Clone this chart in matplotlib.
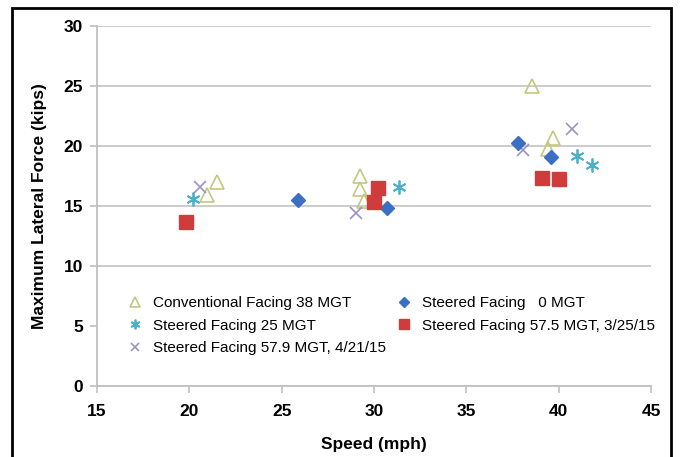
import numpy as np
import matplotlib.pyplot as plt
from matplotlib.patches import Rectangle

plt.rcParams['font.family'] = ['Liberation Sans', 'DejaVu Sans']

# Conventional Facing 38 MGT
conv_x = [20.96, 21.5, 29.24, 29.24, 29.46, 38.55, 39.7, 39.4]
conv_y = [15.9, 17.0, 17.5, 16.4, 15.4, 25.0, 20.7, 19.75]
# Steered Facing 0 MGT
s0_x = [25.88, 30.7, 37.8, 39.6]
s0_y = [15.5, 14.8, 20.25, 19.1]
# Steered Facing 25 MGT
s25_x = [20.2, 31.35, 41.0, 41.8]
s25_y = [15.6, 16.6, 19.2, 18.4]
# Steered Facing 57.5 MGT, 3/25/15
s575_x = [19.8, 30.2, 30.0, 39.1, 40.0]
s575_y = [13.7, 16.5, 15.3, 17.3, 17.25]
# Steered Facing 57.9 MGT, 4/21/15
s579_x = [20.6, 29.0, 38.06, 40.7]
s579_y = [16.6, 14.4, 19.7, 21.4]

xticks = [15, 20, 25, 30, 35, 40, 45]
yticks = [0, 5, 10, 15, 20, 25, 30]

fig = plt.figure(figsize=(6.82, 4.57), dpi=100)
ax = fig.add_axes([97/682, 1-386/457, (651-97)/682, (386-26)/457])

# outer frame (cut at bottom)
fig.patches.append(Rectangle((12/682, -0.05), (671-12)/682, 1.05-8/457,
                             transform=fig.transFigure, fill=False,
                             edgecolor='black', lw=2))

h1, = ax.plot(conv_x, conv_y, '^', ms=9.5, mfc='none', mec='#c3c87e', mew=1.2, ls='none',
              label='Conventional Facing 38 MGT')
h3, = ax.plot(s25_x, s25_y, ls='none', marker=(6, 2, 0), ms=10, mec='#4bb0c8', mew=1.3,
              label='Steered Facing 25 MGT')
h5, = ax.plot(s579_x, s579_y, 'x', ms=9, mec='#9c92c4', mew=1.2, ls='none',
              label='Steered Facing 57.9 MGT, 4/21/15')
h2, = ax.plot(s0_x, s0_y, 'D', ms=7, mfc='#3b6fc4', mec='#3b6fc4', ls='none',
              label='Steered Facing   0 MGT')
h4, = ax.plot(s575_x, s575_y, 's', ms=10, mfc='#d03c3c', mec='#d03c3c', ls='none',
              label='Steered Facing 57.5 MGT, 3/25/15')

ax.set_xlim(15, 45)
ax.set_ylim(0, 30)
ax.set_xticks(xticks)
ax.set_yticks(yticks)
ax.yaxis.grid(True, color='#c8c8c8', lw=1.3)
ax.set_axisbelow(True)
# white legend area hides the grid line behind it
ax.axhspan(3.3, 7.3, color='white', zorder=1)
for s in ['top', 'right']:
    ax.spines[s].set_visible(False)
for s in ['left', 'bottom']:
    ax.spines[s].set_color('#c0c0c0')
    ax.spines[s].set_linewidth(1.3)
    ax.spines[s].set_zorder(3)
ax.tick_params(axis='both', color='#c0c0c0', width=1.2, length=5, labelsize=12.5)
ax.tick_params(axis='x', pad=8)
ax.tick_params(axis='y', pad=5)
for lab in ax.get_xticklabels() + ax.get_yticklabels():
    lab.set_fontweight('bold')

ax.set_xlabel('Speed (mph)', fontsize=12.5, fontweight='bold', labelpad=13)
ax.set_ylabel('Maximum Lateral Force (kips)', fontsize=12.5, fontweight='bold', labelpad=12)

leg = ax.legend(handles=[h1, h3, h5, h2, h4], ncol=2, loc='upper left',
                bbox_to_anchor=(0.052, 0.25), fontsize=11, frameon=False,
                markerscale=0.7, handlelength=1.2, handletextpad=0.6, columnspacing=0.55,
                labelspacing=0.56, borderaxespad=0.0, borderpad=0.0)

fig.savefig('out.png', dpi=100)
